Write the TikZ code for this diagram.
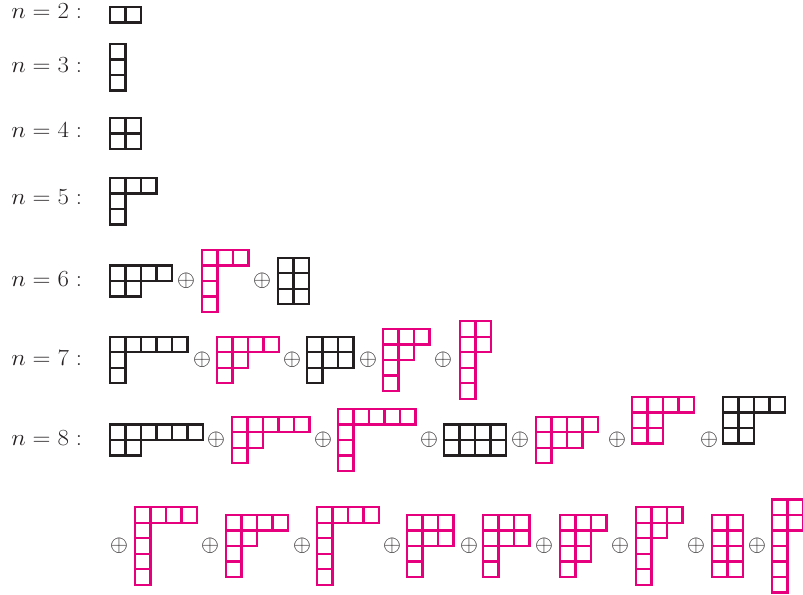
\documentclass[tikz,border=0pt]{standalone}
\definecolor{mag}{RGB}{230,0,126}
\definecolor{ink}{RGB}{35,31,32}
\tikzset{
  cell/.style={line width=1.6pt},
  blk/.style={draw=ink},
  pnk/.style={draw=mag},
  lbl/.style={anchor=base west, inner sep=0pt, font=\fontsize{17}{20}\selectfont, text=ink},
  opl/.style={inner sep=0pt, font=\fontsize{17}{20}\selectfont, text=ink},
}
\newcommand\yd[4]{%
  \foreach \r [count=\i from 0] in {#4} {
    \foreach \c in {1,...,\r} {
      \draw[cell,#3] ({#1+(\c-1)*15.5},{#2+\i*15.5}) rectangle ++(15.5,15.5);
    }
  }%
}
\newcommand\lab[3]{\node[lbl] (#1) at (11,#2) {\scalebox{1.08}[1]{$n=#3:$}};}
\begin{document}
\begin{tikzpicture}[x=0.75pt,y=-0.75pt]
\useasboundingbox (0,0) rectangle (803,595);
% labels
\lab{l2}{19}{2}
\lab{l3}{72.5}{3}
\lab{l4}{138}{4}
\lab{l5}{204.5}{5}
\lab{l6}{286.5}{6}
\lab{l7}{365.5}{7}
\lab{l8}{445.5}{8}
% n=2..5
\yd{110}{7}{blk}{2}
\yd{110}{44}{blk}{1,1,1}
\yd{110}{118}{blk}{2,2}
\yd{110}{178}{blk}{3,1,1}
% n=6 (axis 281)
\yd{110}{265.5}{blk}{4,2}
\node[opl] (p61) at (186,281) {$\oplus$};
\yd{202}{250}{pnk}{3,1,1,1}
\node[opl] (p62) at (262,281) {$\oplus$};
\yd{278}{257.75}{blk}{2,2,2}
% n=7 (axis 360)
\yd{110}{336.75}{blk}{5,1,1}
\node[opl] (p71) at (202,360) {$\oplus$};
\yd{217}{336.75}{pnk}{4,2,1}
\node[opl] (p72) at (292,360) {$\oplus$};
\yd{307}{336.75}{blk}{3,3,1}
\node[opl] (p73) at (368,360) {$\oplus$};
\yd{383}{329}{pnk}{3,2,1,1}
\node[opl] (p74) at (443,360) {$\oplus$};
\yd{460}{321.25}{pnk}{2,2,1,1,1}
% n=8 first row (axis 440)
\yd{110}{424.5}{blk}{6,2}
\node[opl] (p81) at (216,440) {$\oplus$};
\yd{232}{416.75}{pnk}{5,2,1}
\node[opl] (p82) at (323,440) {$\oplus$};
\yd{338}{409}{pnk}{5,1,1,1}
\node[opl] (p83) at (429,440) {$\oplus$};
\yd{444}{424.5}{blk}{4,4}
\node[opl] (p84) at (520,440) {$\oplus$};
\yd{536}{416.75}{pnk}{4,3,1}
\node[opl] (p85) at (617,440) {$\oplus$};
\yd{632}{397}{pnk}{4,2,2}
\node[opl] (p86) at (709,440) {$\oplus$};
\yd{723}{397}{blk}{4,2,2}
% n=8 second row (axis 546)
\node[opl] (p87) at (119,546) {$\oplus$};
\yd{135}{507.25}{pnk}{4,1,1,1,1}
\node[opl] (p88) at (210,546) {$\oplus$};
\yd{226}{515}{pnk}{4,2,1,1}
\node[opl] (p89) at (302,546) {$\oplus$};
\yd{317}{507.25}{pnk}{4,1,1,1,1}
\node[opl] (p810) at (392,546) {$\oplus$};
\yd{407}{515}{pnk}{3,3,1,1}
\node[opl] (p811) at (469,546) {$\oplus$};
\yd{483}{515}{pnk}{3,3,1,1}
\node[opl] (p812) at (544,546) {$\oplus$};
\yd{560}{515}{pnk}{3,2,2,1}
\node[opl] (p813) at (620,546) {$\oplus$};
\yd{636}{507.25}{pnk}{3,2,1,1,1}
\node[opl] (p814) at (696,546) {$\oplus$};
\yd{712}{515}{pnk}{2,2,2,2}
\node[opl] (p815) at (757,546) {$\oplus$};
\yd{772}{499.5}{pnk}{2,2,1,1,1,1}
\end{tikzpicture}
\end{document}
